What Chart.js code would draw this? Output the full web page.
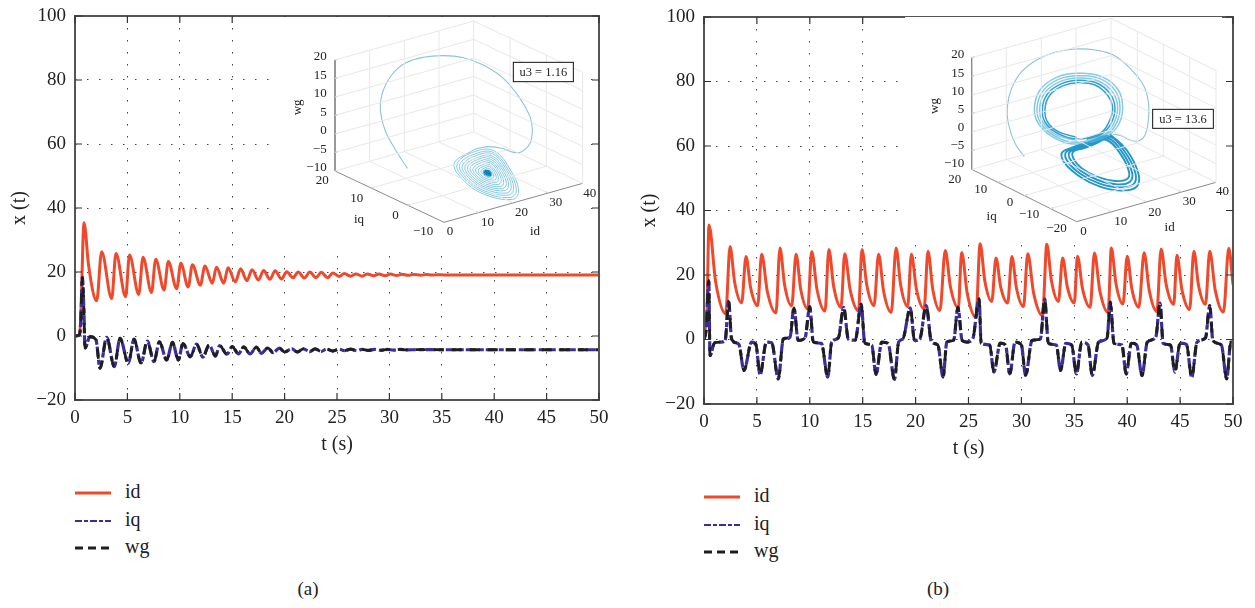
<!DOCTYPE html>
<html>
<head>
<meta charset="utf-8">
<title>x(t) panels</title>
<script src="https://cdn.jsdelivr.net/npm/chart.js@4"></script>
<style>
  html, body { margin: 0; padding: 0; background: #fff; }
  body { position: relative; width: 1255px; height: 608px; overflow: hidden; font-family: "Liberation Serif", serif; color: #222; }
  canvas { position: absolute; }
  .caption { position: absolute; font-size: 19px; transform: translateX(-50%); }
  .legend { position: absolute; font-size: 20px; }
  .legend div { height: 27.5px; line-height: 27px; white-space: nowrap; }
  .legend svg { vertical-align: middle; margin-right: 14px; }
</style>
</head>
<body>
<canvas id="mainA" width="625" height="470" style="left:0px;top:0px"></canvas>
<canvas id="mainB" width="625" height="475" style="left:630px;top:0px"></canvas>
<canvas id="insetA" width="322" height="233" style="left:275px;top:17px"></canvas>
<canvas id="insetB" width="326" height="222" style="left:905px;top:17px"></canvas>
<div id="legendA" class="legend" style="left:75px;top:478px"></div>
<div id="legendB" class="legend" style="left:704px;top:482px"></div>
<div class="caption" style="left:308px;top:578px">(a)</div>
<div class="caption" style="left:938px;top:578px">(b)</div>

<script>
// --- Datos: [t, valor] ---
const seriesNames = ['id', 'iq', 'wg'];

const idA = [[0,0],[0.4,0.3],[0.55,6],[0.86,35.4],[1.3,22],[2.07,11],[2.54,26.3],[3.5,11.7],[3.91,25.8],[4.83,12.3],[5.2,25.3],[6.08,13],[6.49,24.6],[7.3,13.6],[7.7,24],[8.5,14.4],[8.9,23.3],[9.7,14.8],[10.1,22.7],[10.8,15.3],[11.2,22.3],[11.96,15.9],[12.4,21.9],[13.1,16.5],[13.5,21.5],[14.2,16.5],[14.6,21.3],[15.3,16.9],[15.8,21],[16.4,17.3],[16.9,20.7],[17.5,17.5],[18,20.5],[18.6,17.7],[19.1,20.4],[19.7,17.8],[20.2,20.1],[20.8,18.2],[21.3,20],[21.9,18.1],[22.4,20],[23,18.2],[23.5,19.9],[24.1,18.2],[24.6,19.7],[25.2,18.6],[25.7,19.5],[26.3,18.7],[26.8,19.4],[27.4,18.7],[27.9,19.4],[28.5,18.8],[29,19.4],[29.6,18.85],[30.1,19.35],[30.7,18.9],[31.2,19.3],[31.8,18.95],[32.3,19.25],[33,19],[33.5,19.2],[34.1,19.05],[34.6,19.15],[35.2,19.1],[36,19.1],[50,19.1]];

const iqA = [[0,0],[0.4,0.3],[0.55,4],[0.7,18.3],[0.85,8],[0.95,-3.8],[1.43,-0.2],[2,-1.2],[2.39,-10.1],[3.02,-0.4],[3.75,-9.6],[4.3,-0.7],[5.09,-8.5],[5.63,-1],[6.3,-8.5],[6.9,-1.6],[7.54,-8],[8.05,-1.8],[8.75,-7.5],[9.3,-2],[9.86,-7.5],[10.3,-2.3],[11,-6.5],[11.6,-2.5],[12.2,-6.6],[12.8,-2.8],[13.4,-6.3],[13.8,-3],[14.5,-5.7],[15,-3.3],[15.6,-5.6],[16.1,-3.4],[16.7,-5.6],[17.3,-3.5],[17.8,-5.4],[18.4,-3.7],[18.9,-5.2],[19.5,-3.8],[20,-5],[20.7,-4],[21.2,-5],[21.8,-4],[22.4,-4.9],[22.9,-4],[23.5,-4.8],[24,-4.1],[24.6,-4.7],[25.2,-4.1],[25.7,-4.6],[26.3,-4.1],[26.9,-4.6],[27.4,-4.15],[28,-4.5],[28.6,-4.2],[29.2,-4.45],[29.8,-4.2],[30.4,-4.4],[31,-4.2],[31.6,-4.35],[33,-4.25],[35,-4.3],[50,-4.3]];
const wgA = iqA; // wg va encima de iq en todo el panel

const idB = [[0,0],[0.15,4],[0.25,5],[0.47,35.5],[1.1,17.9],[2.05,8],[2.46,28.8],[2.9,17.7],[3.56,11.4],[3.97,25.7],[4.41,16],[5.07,10.5],[5.45,26.4],[5.99,14.8],[6.8,8.2],[7.18,28.4],[7.62,16.9],[8.29,10.4],[8.7,26.4],[9.14,15.6],[9.8,9.5],[10.18,27.3],[10.68,15.5],[11.44,8.8],[11.8,27.9],[12.26,16.4],[12.95,10],[13.3,26.6],[13.82,15.3],[14.6,8.9],[14.93,27.9],[15.39,16.8],[16.07,10.5],[16.5,26.4],[16.98,14.9],[17.7,8.4],[18.15,28.4],[18.59,16.8],[19.25,10.2],[19.6,26.4],[20.08,15.6],[20.8,9.5],[21.17,27.4],[21.62,15.6],[22.3,9],[22.8,27.6],[23.3,16.2],[24.04,9.8],[24.35,27],[24.89,14.1],[25.7,6.9],[26.1,29.7],[26.54,18.2],[27.2,11.8],[27.6,25.3],[28.04,16.3],[28.7,11.3],[29.1,25.7],[29.54,15.8],[30.2,10.2],[30.6,26.6],[31.16,14.3],[32,7.4],[32.4,29.5],[32.84,18.2],[33.5,11.8],[33.9,25.3],[34.34,16.3],[35,11.3],[35.3,25.8],[35.78,15.7],[36.5,10],[36.9,26.8],[37.42,15],[38.2,8.4],[38.5,28.4],[38.94,17.3],[39.6,11],[40,25.8],[40.44,15.7],[41.1,10],[41.6,26.9],[42.08,15.3],[42.8,8.7],[43.2,28.1],[43.68,17.1],[44.4,10.9],[44.7,26.1],[45.18,15.3],[45.9,9.3],[46.3,27.4],[46.74,16.8],[47.4,10.9],[47.8,27.4],[48.32,15.3],[49.1,8.5],[49.6,28.3],[50,17]];

const iqB = [[0,0],[0.2,3],[0.45,18.3],[0.57,-5],[1,-1],[1.6,-0.8],[2,-0.3],[2.33,11.9],[2.6,0.3],[3,-1],[3.3,-1.5],[3.78,-9.6],[4.5,-0.8],[4.9,-1.5],[5.3,-10.9],[5.9,-0.8],[6.4,-1],[7.02,-12.2],[7.5,0.2],[8.13,0.7],[8.5,9.8],[8.9,-0.3],[9.55,0.5],[10,10.2],[10.33,-0.8],[11.1,-1.2],[11.7,-11.7],[12.07,-0.8],[12.7,0.5],[13.2,10],[13.65,0],[14.3,-0.2],[14.85,11],[15.2,-1.1],[15.85,-1.7],[16.26,-10.9],[16.8,-0.8],[17.4,-1.2],[18,-12.4],[18.4,-0.8],[18.8,0.2],[19.5,9.8],[19.9,-0.3],[20.4,0.2],[21,10.5],[21.5,-0.8],[22.1,-1.7],[22.6,-11.7],[22.95,-0.8],[23.6,-0.2],[24,10],[24.4,-0.3],[24.84,-0.8],[25.4,0.2],[26,12.6],[26.2,-1.2],[27,-1.7],[27.4,-10.1],[28,-1.1],[28.5,-1.7],[28.9,-10.7],[29.4,-0.8],[30,-1.7],[30.4,-11.2],[31,-0.3],[31.8,0.2],[32.2,12.6],[32.55,-1.2],[33.3,-1.7],[33.7,-9.6],[34.2,-1.2],[34.75,-1.7],[35.2,-10.7],[35.7,-0.8],[36.3,-1.7],[36.7,-11.2],[37.3,-0.8],[38.1,0.5],[38.4,11.6],[38.75,-1.2],[39.5,-1.7],[39.9,-10.7],[40.4,-1.1],[40.9,-1.7],[41.4,-11.2],[41.9,-0.8],[42.7,0.7],[43.1,11.3],[43.4,-1.2],[44.1,-1.7],[44.5,-10.1],[45,-1.1],[45.6,-1.5],[46.1,-11.7],[46.6,-0.8],[47.4,0.5],[47.8,10.5],[48.1,-0.3],[48.9,-1.7],[49.4,-12.2],[49.8,-0.8],[50,-0.8]];
const wgB = iqB;

const yTickValues = [-20, 0, 20, 40, 60, 80, 100];
const xTickValues = [0, 5, 10, 15, 20, 25, 30, 35, 40, 45, 50];

// --- Recuadros 3D: curvas tal como se ven proyectadas en el plano del recuadro ---
const arcA = [[322,445],[290,395],[255,330],[241,265],[250,210],[275,165],[315,130],[370,112],[430,107],[490,113],[550,135],[610,175],[660,235],[690,290],[697,330],[690,370],[665,395],[640,397],[605,385],[570,380],[535,385],[520,390]];
const spiralA = [[520,390],[463,430],[488,478],[553,523],[638,538],[656,513],[633,453],[583,393],
  [523,395],[471,432],[494,476],[554,518],[632,532],[649,509],[627,453],[581,398],
  [527,401],[479,434],[500,475],[555,513],[626,525],[641,504],[622,454],[580,403],
  [530,406],[487,437],[506,473],[555,507],[620,519],[634,500],[616,454],[578,409],
  [534,412],[495,439],[512,472],[556,502],[614,512],[626,495],[611,455],[577,414],
  [537,417],[503,441],[518,470],[557,497],[608,506],[619,491],[605,455],[575,419],
  [541,423],[511,443],[524,468],[558,492],[602,500],[611,487],[599,455],[573,424],
  [544,428],[519,446],[530,467],[559,487],[596,493],[604,482],[594,456],[572,429],
  [548,434],[527,448],[536,465],[559,481],[590,487],[596,478],[588,456],[570,435],
  [551,439],[535,450],[542,464],[560,476],[584,480],[589,473],[583,457],[569,440],
  [554,444],[543,452],[548,462],[561,471],[578,474],[582,469],[577,457],[567,445],
  [557,448],[549,454],[553,461],[562,467],[574,469],[576,466],[573,457],[566,449]];
const coreA = [[561,452],[554,456],[556,461],[562,464],[570,465],[571,462],[568,456],[563,454],[558,457],[560,461],[565,462],[567,459],[563,456]];

const arcB = [[283,410],[255,370],[235,310],[232,260],[245,205],[275,155],[320,120],[375,97],[435,87],[495,90],[550,105],[600,145],[640,195],[655,245],[655,300],[645,345],[625,363],[600,360],[575,348],[548,342]];
const upperInnerB = [[440,352],[385,335],[352,305],[345,265],[360,225],[400,197],[445,188],[495,195],[532,225],[548,265],[535,310],[510,340],
  [440,357],[381,339],[345,306],[337,265],[353,221],[395,191],[445,181],[500,189],[540,221],[555,265],[543,311],[515,342],[470,358]];
const upperOuterB = [[440,362],[378,344],[339,308],[329,265],[345,218],[390,185],[445,174],[505,183],[549,218],[563,265],[550,313],[520,345],
  [440,367],[374,348],[332,309],[321,265],[338,214],[385,178],[445,167],[510,176],[557,214],[570,265],[557,314],[525,347],
  [440,372],[370,352],[325,310],[313,265],[330,210],[380,172],[445,160],[515,170],[565,210],[578,265],[565,315],[530,350],[480,368]];
const lowerB = [[540,343],[590,390],[625,460],[620,500],[575,512],[510,500],[450,470],[405,430],[395,400],[420,385],[480,365],
  [537,349],[583,393],[616,458],[610,493],[568,502],[507,490],[452,462],[413,425],[407,398],[433,385],[485,367],
  [533,354],[577,397],[606,457],[600,485],[562,493],[503,480],[453,453],[422,420],[418,397],[447,385],[490,370],
  [530,360],[570,400],[597,455],[590,478],[555,483],[500,470],[455,445],[430,415],[430,395],[460,385],[495,372],[530,352]];

// Rejilla y ejes del cubo, un tramo por lista
const gridA = [
  [[105,397],[521,280],[848,434]], [[105,342],[521,225],[848,379]], [[105,286],[521,169],[848,323]],
  [[105,231],[521,114],[848,268]], [[105,175],[521,58],[848,212]], [[105,120],[521,3],[848,157]],
  [[105,453],[521,336],[848,490]],
  [[209,424],[209,91]], [[313,395],[313,62]], [[417,366],[417,33]], [[521,336],[521,3]],
  [[630,387],[630,54]], [[739,439],[739,106]], [[848,490],[848,157]],
  [[209,424],[536,578]], [[313,395],[640,549]], [[417,366],[744,519]],
  [[214,504],[630,387]], [[323,556],[739,439]]
];
const axesA = [
  [[105,120],[105,453],[432,607],[848,490]],
  [[105,120],[113,118]], [[105,175],[113,173]], [[105,231],[113,229]], [[105,286],[113,284]], [[105,342],[113,340]], [[105,397],[113,395]],
  [[214,504],[222,502]], [[323,556],[331,554]],
  [[536,578],[530,575]], [[640,549],[634,546]], [[744,519],[738,516]]
];
const gridB = [
  [[125,392],[543,274],[858,431]], [[125,336],[543,218],[858,375]], [[125,281],[543,163],[858,320]],
  [[125,225],[543,107],[858,264]], [[125,169],[543,51],[858,208]], [[125,113],[543,-5],[858,152]],
  [[125,448],[543,330],[858,487]],
  [[229,418],[229,83]], [[334,389],[334,54]], [[438,359],[438,24]], [[543,330],[543,-5]],
  [[622,369],[622,34]], [[700,408],[700,73]], [[779,448],[779,113]], [[858,487],[858,152]],
  [[544,575],[229,418]], [[649,546],[334,389]], [[753,516],[438,359]],
  [[204,487],[622,369]], [[283,527],[700,408]], [[361,566],[779,448]]
];
const axesB = [
  [[125,113],[125,448],[440,605],[858,487]],
  [[125,113],[133,111]], [[125,169],[133,167]], [[125,225],[133,223]], [[125,281],[133,279]], [[125,336],[133,334]], [[125,392],[133,390]],
  [[204,487],[212,485]], [[283,527],[291,525]], [[361,566],[369,564]],
  [[544,575],[538,572]], [[649,546],[643,543]], [[753,516],[747,513]]
];

const labelsA = [
  ['20',80,110],['15',80,166],['10',80,222],['5',80,278],['0',80,333],['−5',80,390],['−10',80,443],
  ['20',86,483],['10',190,535],['0',296,586],['−10',400,635],
  ['0',460,635],['10',582,608],['20',684,578],['30',787,547],['40',889,522],
  ['iq',192,600],['id',720,635]
];
const labelsB = [
  ['20',103,105],['15',103,160],['10',103,215],['5',103,270],['0',103,323],['−5',103,378],['−10',103,432],
  ['20',94,480],['10',172,510],['0',250,548],['−10',328,585],['−20',410,625],
  ['0',470,635],['10',592,606],['20',694,577],['30',797,546],['40',897,515],
  ['iq',200,590],['id',734,623]
];

// --- Utilidades ---
const RED = '#f0482b', BLUE = '#3a2d9c', BLACK = '#1e1e1e';
const FONT = '"Liberation Serif", serif';
const toXY = pts => pts.map(p => ({ x: p[0], y: p[1] }));
// une tramos con un hueco entre ellos
const segments = list => list.flatMap(s => [...toXY(s), { x: NaN, y: NaN }]);
const minus = v => String(v).replace('-', '−');

// Marco con marcas hacia dentro, como en el original
const framePlugin = {
  id: 'frame',
  afterDraw(chart) {
    const { ctx, chartArea: a, scales } = chart;
    ctx.save();
    ctx.strokeStyle = '#555';
    ctx.lineWidth = 2;
    ctx.strokeRect(a.left, a.top, a.right - a.left, a.bottom - a.top);
    ctx.strokeStyle = '#333';
    ctx.lineWidth = 1.2;
    ctx.beginPath();
    xTickValues.forEach(v => {
      const x = scales.x.getPixelForValue(v);
      ctx.moveTo(x, a.bottom); ctx.lineTo(x, a.bottom - 7);
      ctx.moveTo(x, a.top); ctx.lineTo(x, a.top + 7);
    });
    yTickValues.forEach(v => {
      const y = scales.y.getPixelForValue(v);
      ctx.moveTo(a.left, y); ctx.lineTo(a.left + 7, y);
      ctx.moveTo(a.right, y); ctx.lineTo(a.right - 7, y);
    });
    ctx.stroke();
    ctx.restore();
  }
};

function mainChart(id, idData, iqData, wgData, yWidth, xHeight, pad) {
  new Chart(document.getElementById(id), {
    type: 'line',
    data: {
      datasets: [
        { label: seriesNames[0], data: toXY(idData), borderColor: RED, borderWidth: 3, order: 3 },
        { label: seriesNames[1], data: toXY(iqData), borderColor: BLUE, borderWidth: 3.2, borderDash: [10, 3, 5, 2], order: 2 },
        { label: seriesNames[2], data: toXY(wgData), borderColor: BLACK, borderWidth: 2.8, borderDash: [10, 8], order: 1 }
      ]
    },
    options: {
      responsive: false,
      animation: false,
      layout: { padding: pad },
      elements: { point: { radius: 0 }, line: { cubicInterpolationMode: 'monotone' } },
      plugins: { legend: { display: false }, tooltip: { enabled: false } },
      scales: {
        x: {
          type: 'linear', min: 0, max: 50,
          afterFit: s => { s.height = xHeight; s.paddingLeft = 0; s.paddingRight = 0; },
          afterBuildTicks: s => { s.ticks = xTickValues.map(value => ({ value })); },
          grid: { color: '#444', drawTicks: false },
          border: { display: false, dash: [1.5, 10.5] },
          ticks: { color: '#222', padding: 7, maxRotation: 0, font: { family: FONT, size: 19 } },
          title: { display: true, text: 't (s)', color: '#222', padding: { top: 4 }, font: { family: FONT, size: 20 } }
        },
        y: {
          min: -20, max: 100,
          afterFit: s => { s.width = yWidth; s.paddingTop = 0; s.paddingBottom = 0; },
          afterBuildTicks: s => { s.ticks = yTickValues.map(value => ({ value })); },
          grid: { color: '#444', drawTicks: false },
          border: { display: false, dash: [1.5, 10.5] },
          ticks: { color: '#222', padding: 9, callback: minus, font: { family: FONT, size: 19 } },
          title: { display: true, text: 'x (t)', color: '#222', padding: { top: 8, bottom: 0 }, font: { family: FONT, size: 20 } }
        }
      }
    },
    plugins: [framePlugin]
  });
}

// Recuadro 3D: ejes ocultos, plano en unidades de lectura
function insetChart(id, cfg) {
  const textPlugin = {
    id: 'insetText',
    afterDraw(chart) {
      const { ctx, scales } = chart;
      const X = scales.x, Y = scales.y;
      ctx.save();
      ctx.fillStyle = '#222';
      ctx.font = '13px ' + FONT;
      ctx.textBaseline = 'middle';
      ctx.textAlign = 'right';
      cfg.labels.forEach(l => ctx.fillText(l[0], X.getPixelForValue(l[1]), Y.getPixelForValue(l[2])));
      // etiqueta wg girada
      ctx.save();
      ctx.translate(X.getPixelForValue(cfg.wgAt[0]), Y.getPixelForValue(cfg.wgAt[1]));
      ctx.rotate(-Math.PI / 2);
      ctx.textAlign = 'center';
      ctx.fillText('wg', 0, 0);
      ctx.restore();
      // caja u3
      const bx = X.getPixelForValue(cfg.box[0]), by = Y.getPixelForValue(cfg.box[1]);
      const bw = X.getPixelForValue(cfg.box[2]) - bx, bh = Y.getPixelForValue(cfg.box[3]) - by;
      ctx.fillStyle = '#fff';
      ctx.fillRect(bx, by, bw, bh);
      ctx.strokeStyle = '#111';
      ctx.lineWidth = 1;
      ctx.strokeRect(bx, by, bw, bh);
      ctx.fillStyle = '#222';
      ctx.textAlign = 'center';
      ctx.font = '12.5px ' + FONT;
      ctx.fillText(cfg.boxText, bx + bw / 2, by + bh / 2 + 0.5);
      ctx.restore();
    }
  };
  new Chart(document.getElementById(id), {
    type: 'line',
    data: { datasets: cfg.datasets },
    options: {
      responsive: false,
      animation: false,
      layout: { padding: 0 },
      elements: { point: { radius: 0 } },
      plugins: { legend: { display: false }, tooltip: { enabled: false } },
      scales: {
        x: { type: 'linear', display: false, min: cfg.xRange[0], max: cfg.xRange[1] },
        y: { type: 'linear', display: false, min: cfg.yRange[0], max: cfg.yRange[1], reverse: true }
      }
    },
    plugins: [{
      id: 'whiteBack',
      beforeDraw(chart) {
        // el borde derecho queda sin pintar para que se vean las marcas del eje
        chart.ctx.fillStyle = '#fff';
        chart.ctx.fillRect(0, 0, chart.width - 9, chart.height);
      }
    }, textPlugin]
  });
}

const lineSet = (pts, color, width, tension) => ({
  data: toXY(pts), borderColor: color, borderWidth: width, tension: tension
});
const wireSet = (list, color, width) => ({
  data: segments(list), borderColor: color, borderWidth: width, tension: 0, spanGaps: false
});

function legendHtml(id) {
  const styles = [
    [RED, '', 3],
    [BLUE, '7 2 4 2', 2],
    [BLACK, '8 5', 3]
  ];
  document.getElementById(id).innerHTML = seriesNames.map((name, i) =>
    `<div><svg width="36" height="4"><line x1="0" y1="2" x2="36" y2="2" stroke="${styles[i][0]}" stroke-width="${styles[i][2]}" stroke-dasharray="${styles[i][1]}"/></svg>${name}</div>`
  ).join('');
}

mainChart('mainA', idA, iqA, wgA, 75, 61, { top: 16, right: 26, bottom: 9, left: 0 });
mainChart('mainB', idB, iqB, wgB, 74, 61, { top: 17, right: 22, bottom: 10, left: 0 });

insetChart('insetA', {
  xRange: [-75, 891], yRange: [-9, 690],
  wgAt: [-8, 262], box: [640, 127, 820, 185], boxText: 'u3 = 1.16', labels: labelsA,
  datasets: [
    wireSet(gridA, '#e8e8e8', 1),
    wireSet(axesA, '#8a8a8a', 1),
    lineSet(arcA, '#8cc4dc', 1.1, 0.4),
    lineSet(spiralA, '#62bbdb', 0.8, 0.4),
    lineSet(coreA, '#0b86c2', 3, 0.4)
  ]
});
insetChart('insetB', {
  xRange: [-75, 903], yRange: [-9, 657],
  wgAt: [15, 258], box: [668, 268, 850, 325], boxText: 'u3 = 13.6', labels: labelsB,
  datasets: [
    wireSet(gridB, '#e8e8e8', 1),
    wireSet(axesB, '#8a8a8a', 1),
    lineSet(arcB, '#8cc4dc', 1.1, 0.4),
    lineSet(upperOuterB, 'rgba(80,180,218,0.7)', 1.5, 0.4),
    lineSet(upperInnerB, 'rgba(15,145,200,0.85)', 1.5, 0.4),
    lineSet(lowerB, 'rgba(10,140,195,0.9)', 1.9, 0.4)
  ]
});
legendHtml('legendA');
legendHtml('legendB');
</script>
</body>
</html>
